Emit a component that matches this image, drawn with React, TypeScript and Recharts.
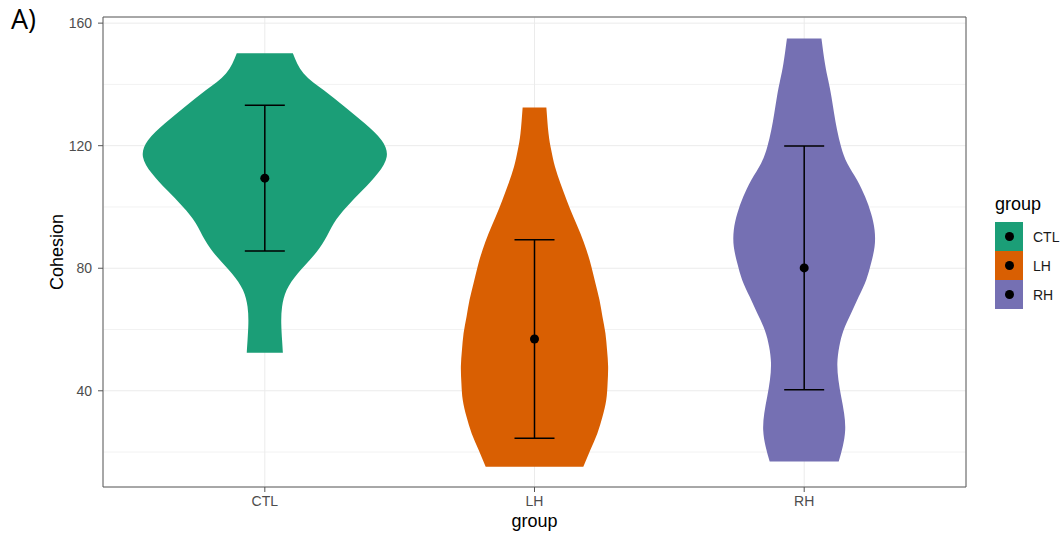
import {
  ComposedChart,
  Area,
  Scatter,
  ErrorBar,
  XAxis,
  YAxis,
  CartesianGrid,
  ReferenceArea,
  Label,
} from 'recharts';

const GROUPS = ['CTL', 'LH', 'RH'];
const COLORS = ['#1B9E77', '#D95F02', '#7570B3'];

// violin outlines: cohesion level and half-width (in group units)
const CTL_Y = [52.4, 56.6, 62, 67.4, 72.9, 78.3, 83.8, 89.2, 94.7, 100.1, 105.5, 111, 116.4, 121.8, 127.3, 132.7, 138.1, 143.6, 150.2];
const CTL_W = [0.067, 0.064, 0.061, 0.064, 0.081, 0.122, 0.178, 0.222, 0.256, 0.304, 0.363, 0.419, 0.452, 0.433, 0.37, 0.296, 0.219, 0.144, 0.104];

const LH_Y = [15.2, 20.7, 26.1, 31.5, 37, 42.4, 47.9, 53.3, 58.8, 64.2, 69.6, 75.1, 80.5, 85.9, 91.4, 96.8, 102.3, 107.7, 113.1, 118.6, 124, 132.5];
const LH_W = [0.181, 0.207, 0.233, 0.252, 0.266, 0.271, 0.273, 0.269, 0.263, 0.252, 0.241, 0.226, 0.211, 0.193, 0.17, 0.144, 0.119, 0.096, 0.076, 0.062, 0.052, 0.044];

const RH_Y = [16.9, 21.8, 27.2, 32.7, 38.1, 43.5, 49, 54.4, 59.8, 65.3, 70.7, 76.2, 81.6, 87, 92.5, 97.9, 103.3, 108.8, 114.2, 119.6, 125.1, 130.5, 136, 141.4, 146.8, 155];
const RH_W = [0.128, 0.143, 0.152, 0.148, 0.137, 0.127, 0.123, 0.13, 0.146, 0.174, 0.202, 0.23, 0.248, 0.261, 0.261, 0.248, 0.226, 0.196, 0.16, 0.137, 0.122, 0.111, 0.101, 0.089, 0.077, 0.064];

// mean +/- sd per group
const MEANS = [109.4, 56.9, 80.1];
const SDS = [23.8, 32.4, 39.8];

const Y_TICKS = [40, 80, 120, 160];
const Y_MINOR = [20, 60, 100, 140];
const X_TICKS = [1, 2, 3];

const FONT = '"Liberation Sans", Arial, Helvetica, sans-serif';

const outlines = [
  { ys: CTL_Y, ws: CTL_W },
  { ys: LH_Y, ws: LH_W },
  { ys: RH_Y, ws: RH_W },
];

// one table for all violins, sorted along the value axis
const violinRows = outlines
  .flatMap(({ ys, ws }, gi) =>
    ys.map((y, k) => {
      const row: Record<string, unknown> = { y };
      GROUPS.forEach((g, j) => {
        row[g] = j === gi ? [gi + 1 - ws[k], gi + 1 + ws[k]] : [null, null];
      });
      return row;
    })
  )
  .sort((a, b) => (a.y as number) - (b.y as number));

const meanRows = MEANS.map((m, i) => ({ x: i + 1, y: m, err: [SDS[i], SDS[i]] }));

export default function App() {
  return (
    <div style={{ position: 'absolute', left: 0, top: 0, width: 1062, height: 540, background: '#fff', fontFamily: FONT }}>
      <div style={{ position: 'absolute', left: 11, top: 5, fontSize: 27, lineHeight: 1, fontFamily: '"Open Sans", sans-serif', color: '#000' }}>
        A)
      </div>
      <ComposedChart
        width={1062}
        height={540}
        data={violinRows}
        layout="vertical"
        margin={{ top: 17, right: 96, bottom: 0, left: 11 }}
        style={{ fontFamily: FONT }}
      >
        <CartesianGrid vertical={false} stroke="#F2F2F2" horizontalValues={Y_MINOR} />
        <CartesianGrid stroke="#EBEBEB" />
        <XAxis
          type="number"
          dataKey="x"
          domain={[0.4, 3.6]}
          allowDataOverflow
          ticks={X_TICKS}
          interval={0}
          tickFormatter={(v) => GROUPS[v - 1]}
          height={53}
          axisLine={false}
          tickSize={5}
          tickMargin={4}
          tickLine={{ stroke: '#555' }}
          tick={{ fill: '#4D4D4D', fontSize: 14, fontFamily: FONT }}
        >
          <Label value="group" position="insideBottom" offset={13} style={{ fontSize: 18, fill: '#000', fontFamily: FONT }} />
        </XAxis>
        <YAxis
          type="number"
          dataKey="y"
          domain={[8.6, 162]}
          allowDataOverflow
          reversed
          ticks={Y_TICKS}
          interval={0}
          width={92}
          axisLine={false}
          tickSize={5}
          tickMargin={6}
          tickLine={{ stroke: '#555' }}
          tick={{ fill: '#4D4D4D', fontSize: 14, fontFamily: FONT }}
        >
          <Label value="Cohesion" angle={-90} position="center" style={{ fontSize: 18, fill: '#000', fontFamily: FONT }} />
        </YAxis>
        {GROUPS.map((g, i) => (
          <Area
            key={g}
            dataKey={g}
            name={g}
            type="natural"
            stroke="none"
            fill={COLORS[i]}
            fillOpacity={1}
            connectNulls
            dot={false}
            activeDot={false}
            isAnimationActive={false}
          />
        ))}
        <Scatter data={meanRows} dataKey="y" fill="#000" isAnimationActive={false}>
          <ErrorBar dataKey="err" direction="y" width={20} stroke="#000" strokeWidth={1.5} isAnimationActive={false} />
        </Scatter>
        <ReferenceArea x1={0.4} x2={3.6} y1={8.6} y2={162} fill="none" stroke="#5a5a5a" strokeWidth={1} />
      </ComposedChart>
      <div style={{ position: 'absolute', left: 995, top: 195, fontSize: 18, lineHeight: 1, color: '#000' }}>group</div>
      <div style={{ position: 'absolute', left: 995, top: 222 }}>
        {GROUPS.map((g, i) => (
          <div key={g} style={{ display: 'flex', alignItems: 'center', height: 29 }}>
            <div style={{ width: 28, height: 29, background: COLORS[i], display: 'flex', alignItems: 'center', justifyContent: 'center' }}>
              <div style={{ width: 9, height: 9, borderRadius: '50%', background: '#000' }} />
            </div>
            <span style={{ marginLeft: 10, fontSize: 14, color: '#1a1a1a' }}>{g}</span>
          </div>
        ))}
      </div>
    </div>
  );
}
